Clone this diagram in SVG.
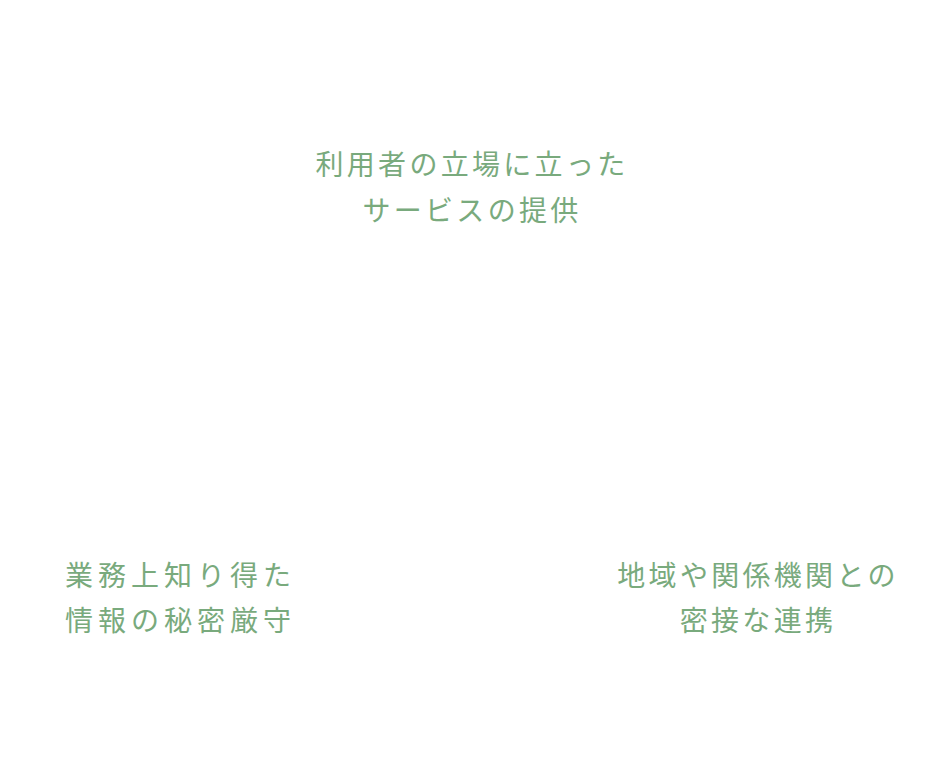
<svg xmlns="http://www.w3.org/2000/svg" width="945" height="777" viewBox="0 0 945 777">
<style>
text{font-family:"Noto Sans CJK JP","Noto Sans",sans-serif;font-size:28px;font-weight:400;fill:#79aa7d}
.c{text-anchor:middle;letter-spacing:3.3px}
.l{letter-spacing:5px}
</style>
<rect width="945" height="777" fill="#ffffff"/>
<g id="node-top">
<text class="c" x="472" y="175">利用者の立場に立った</text>
<text class="c" x="472" y="221">サービスの提供</text>
</g>
<g id="node-left">
<text class="l" x="65" y="586">業務上知り得た</text>
<text class="l" x="65" y="631">情報の秘密厳守</text>
</g>
<g id="node-right">
<text class="c" x="758" y="586">地域や関係機関との</text>
<text class="c" x="758" y="631">密接な連携</text>
</g>
<g id="connectors"></g>
</svg>
